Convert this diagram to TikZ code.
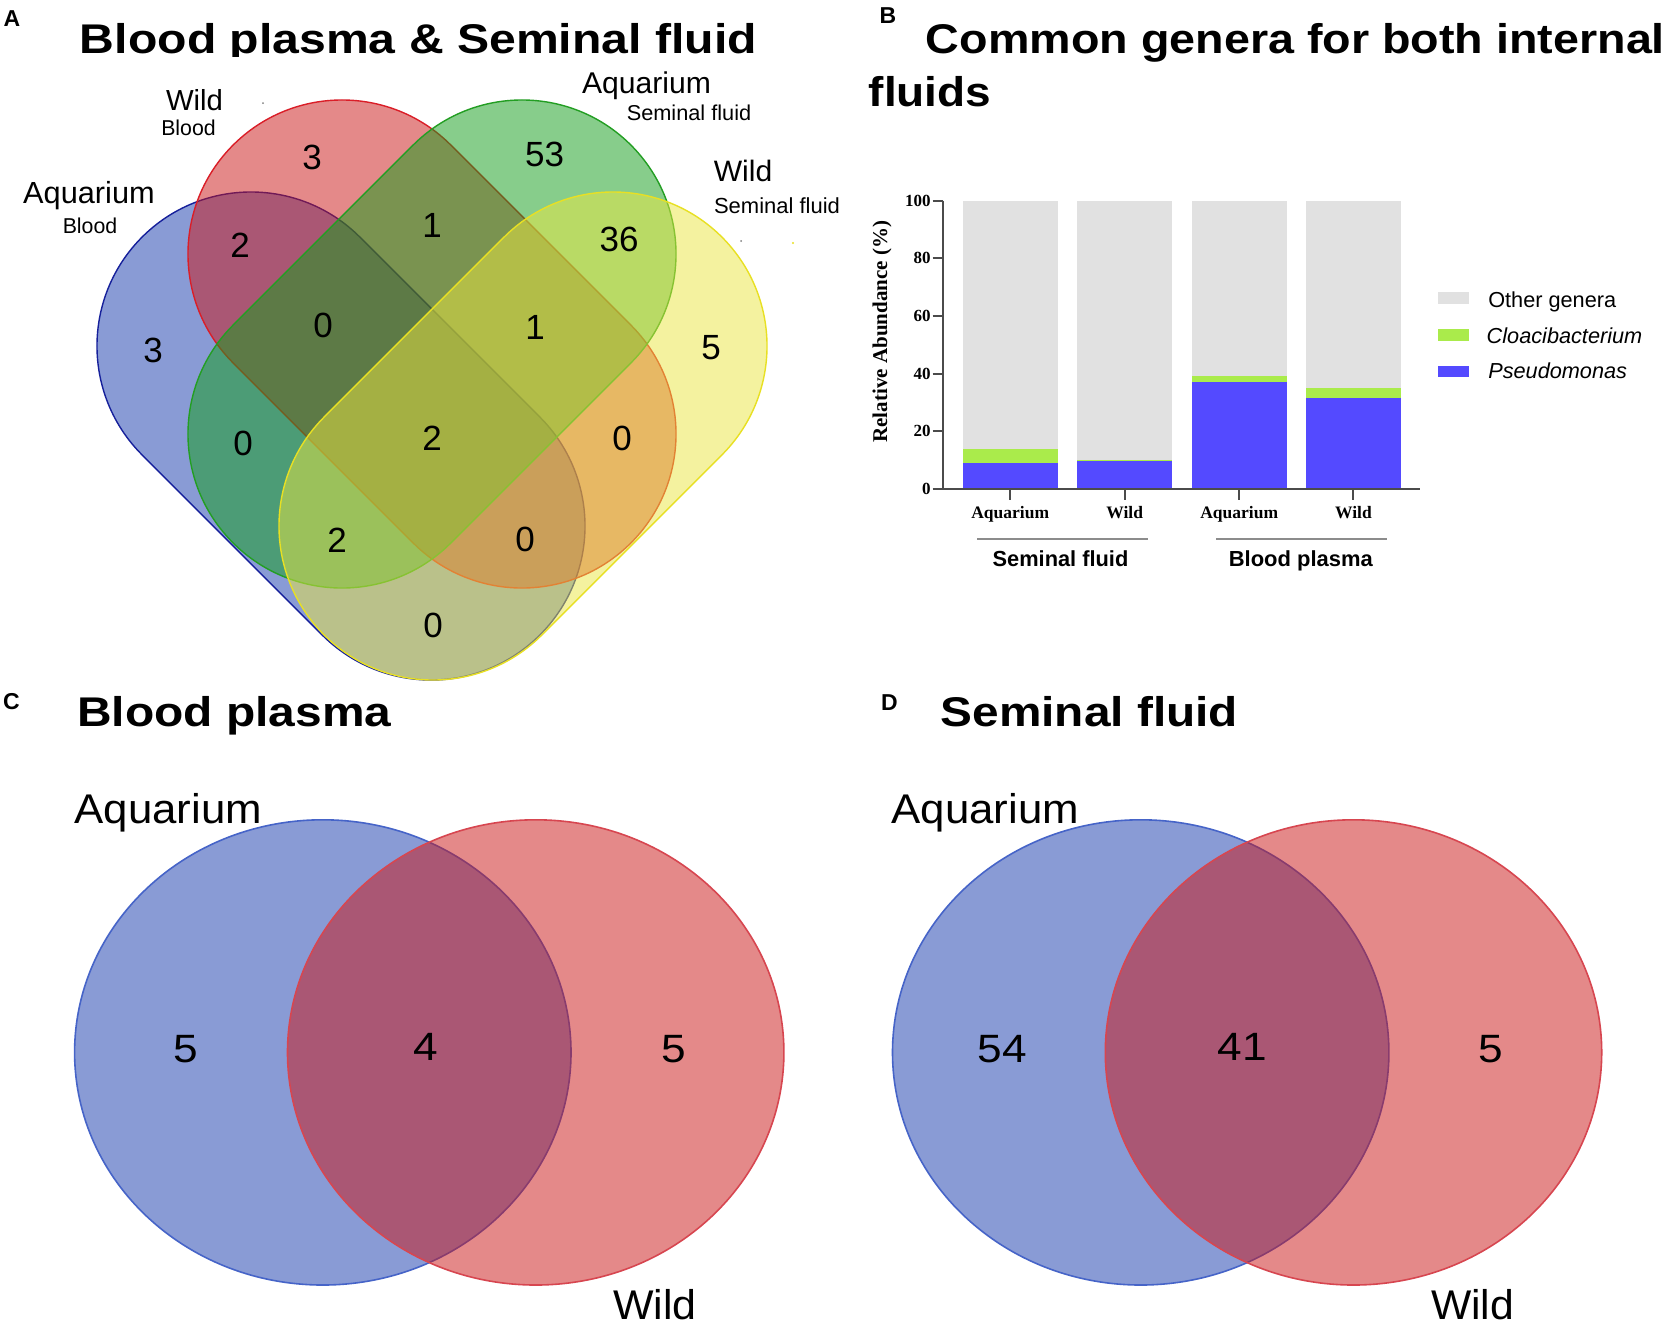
\documentclass[tikz,border=0pt]{standalone}
\usepackage{fontspec}
\setmainfont{Liberation Sans}
\newfontfamily\timesfont{Liberation Serif}
\usepackage{graphicx}
\newcommand\fs[1]{\fontsize{#1}{#1}\selectfont}
\newcommand\fw[3]{\resizebox{#1pt}{\height}{\fs{#2}#3}}
\newcommand\drawbar[4]{%
  \fill[bargray] (#1,200.7) rectangle (#2,489);
  \fill[bargreen] (#1,#4) rectangle (#2,489);
  \fill[barblue] (#1,#3) rectangle (#2,489);}
% stadium: center x, center y, rotation, fill, draw
\newcommand\stadium[5]{%
  \begin{scope}[shift={(#1,#2)}, rotate=#3]
    \path[vset, fill=#4, draw=#5] (-127.3pt,-154pt) -- (127.3pt,-154pt)
      arc[start angle=-90, end angle=90, radius=154pt] -- (-127.3pt,154pt)
      arc[start angle=90, end angle=270, radius=154pt] -- cycle;
  \end{scope}}
\definecolor{vblue}{RGB}{21,57,173}
\definecolor{vred}{RGB}{203,21,21}
\definecolor{vgreen}{RGB}{17,157,25}
\definecolor{vyellow}{RGB}{235,231,65}
\definecolor{bblue}{RGB}{22,32,155}
\definecolor{bred}{RGB}{218,30,40}
\definecolor{bgreen}{RGB}{35,158,35}
\definecolor{byellow}{RGB}{232,224,35}
\definecolor{cblueb}{RGB}{70,100,200}
\definecolor{credb}{RGB}{215,70,80}
\definecolor{barblue}{RGB}{84,74,255}
\definecolor{bargreen}{RGB}{170,235,75}
\definecolor{bargray}{RGB}{225,225,225}
\definecolor{axisgray}{RGB}{75,75,75}
\definecolor{grpgray}{RGB}{140,140,140}
\begin{document}
\begin{tikzpicture}[x=1pt,y=-1pt,
  txt/.style={inner sep=0pt, outer sep=0pt},
  vset/.style={line width=1.4pt, fill opacity=0.5},
  vsetc/.style={line width=1.6pt, fill opacity=0.5},
  axisline/.style={draw=axisgray, line width=2pt},
  grpline/.style={draw=grpgray, line width=1.6pt},
  vnum/.style={txt, font={\fs{35}}},
  cnum/.style={txt},
  panellab/.style={txt, anchor=base, font={\fs{23}\bfseries}},
  ticklab/.style={txt, anchor=east, font={\timesfont\bfseries\fs{17}}},
  xlab/.style={txt, anchor=base, font={\timesfont\bfseries\fs{17.5}}},
  legtext/.style={txt, anchor=base west, font={\fs{21.7}}}
]
\fill[white] (0,0) rectangle (1669,1326);
\useasboundingbox (0,0) rectangle (1669,1326);

% ---------------- Panel A ----------------
\node[panellab] (labA) at (12,26.3) {A};
\begin{scope}
\clip (0,0) rectangle (834,56);
\node[txt, anchor=base] (titleA) at (418.5,53) {\fw{677}{41.5}{\bfseries Blood plasma \& Seminal fluid}};
\end{scope}

\stadium{341}{436}{-45}{vblue}{bblue}
\stadium{432}{344}{-45}{vred}{bred}
\stadium{432}{344}{45}{vgreen}{bgreen}
\stadium{523}{436}{45}{vyellow}{byellow}

\node[txt, anchor=base] (wbW) at (194.5,110) {\fw{57}{29}{Wild}};
\node[txt, anchor=base] (wbB) at (188.5,135.5) {\fw{54.5}{21.5}{Blood}};
\node[txt, anchor=base] (abA) at (89,203.5) {\fw{131.5}{30.5}{Aquarium}};
\node[txt, anchor=base] (abB) at (90,233) {\fw{54.5}{21.5}{Blood}};
\node[txt, anchor=base] (asA) at (646.5,93) {\fw{129}{30}{Aquarium}};
\node[txt, anchor=base] (asS) at (689,120.3) {\fw{124.5}{21.5}{Seminal fluid}};
\node[txt, anchor=base] (wsW) at (743,181) {\fw{58.5}{29.5}{Wild}};
\node[txt, anchor=base] (wsS) at (777,213) {\fw{126}{21.8}{Seminal fluid}};
\fill[gray] (263,103) circle (1pt);
\fill[gray] (741,241) circle (1pt);
\fill[byellow] (793,243) circle (1.2pt);

\node[vnum] (n1) at (312,157) {3};
\node[vnum] (n2) at (544.5,154.5) {53};
\node[vnum] (n3) at (240,245) {2};
\node[vnum] (n4) at (432,225) {1};
\node[vnum] (n5) at (619,239) {36};
\node[vnum] (n6) at (323,325) {0};
\node[vnum] (n7) at (535,327) {1};
\node[vnum] (n8) at (153,350) {3};
\node[vnum] (n9) at (711,348) {5};
\node[vnum] (n10) at (243,443) {0};
\node[vnum] (n11) at (432,438) {2};
\node[vnum] (n12) at (622,438) {0};
\node[vnum] (n13) at (337,540) {2};
\node[vnum] (n14) at (525,539) {0};
\node[vnum] (n15) at (433,625) {0};

% ---------------- Panel B ----------------
\node[panellab] (labB) at (888,23.3) {B};
\node[txt, anchor=base] (titleB1) at (1295.4,53) {\fw{739}{41.5}{\bfseries Common genera for both internal}};
\node[txt, anchor=base] (titleB2) at (930,106) {\fw{122.6}{41.5}{\bfseries fluids}};

\drawbar{962.7}{1057.7}{462.8}{449.2}
\drawbar{1077.3}{1172}{461.0}{460.3}
\drawbar{1191.7}{1286.7}{381.5}{375.7}
\drawbar{1305.7}{1401}{397.6}{387.8}

\draw[axisline] (943.3,200.7) -- (943.3,489) -- (1420,489);
\foreach \v in {0,20,40,60,80,100} {
  \draw[axisline] (932.7,{489-2.883*\v}) -- (943.3,{489-2.883*\v});
  \node[ticklab] (yt\v) at (930.5,{489-2.883*\v}) {\v};
}
\foreach \c in {1010.2,1124.7,1239.2,1353.4} {
  \draw[axisline] (\c,489) -- (\c,500);
}
\node[xlab] (x1) at (1010.2,518.3) {Aquarium};
\node[xlab] (x2) at (1124.7,518.3) {Wild};
\node[xlab] (x3) at (1239.2,518.3) {Aquarium};
\node[xlab] (x4) at (1353.4,518.3) {Wild};
\node[txt, rotate=90, font={\timesfont\bfseries\fs{21}}] (ylab) at (882,331.7) {Relative Abundance (\%)};

\draw[grpline] (977.3,539) -- (1148.3,539);
\draw[grpline] (1216,539) -- (1386.7,539);
\node[txt, anchor=base] (g1) at (1060.5,566.7) {\fw{135.6}{21.8}{\bfseries Seminal fluid}};
\node[txt, anchor=base] (g2) at (1300.8,566.7) {\fw{144}{21.8}{\bfseries Blood plasma}};

\fill[bargray] (1438.3,292.3) rectangle (1469,304);
\fill[bargreen] (1438.3,329) rectangle (1469,340.7);
\fill[barblue] (1438.3,365.7) rectangle (1469,377.3);
\node[legtext] (l1) at (1488.3,307.3) {Other genera};
\node[legtext] (l2) at (1486.7,343.3) {\itshape Cloacibacterium};
\node[legtext] (l3) at (1488.3,378.3) {\itshape Pseudomonas};

% ---------------- Panel C ----------------
\node[panellab] (labC) at (11.5,709.5) {C};
\node[txt, anchor=base] (titleC) at (234.3,726.5) {\fw{314.2}{41.5}{\bfseries Blood plasma}};
\path[vsetc, fill=vblue, draw=cblueb] (322.8,1052.4) ellipse [x radius=248.2pt, y radius=232.6pt];
\path[vsetc, fill=vred, draw=credb] (535.7,1052.4) ellipse [x radius=248.2pt, y radius=232.6pt];
\node[txt, anchor=base] (cA) at (168.2,823) {\fw{187.5}{41.5}{Aquarium}};
\node[txt, anchor=base] (cW) at (654.8,1319) {\fw{83.5}{41.5}{Wild}};
\node[cnum] (c1) at (185.3,1048.6) {\scalebox{1.12}[1]{\fs{39.5}5}};
\node[cnum] (c2) at (426,1046.5) {\scalebox{1.12}[1]{\fs{39.5}4}};
\node[cnum] (c3) at (673.6,1049) {\scalebox{1.12}[1]{\fs{39.5}5}};

% ---------------- Panel D ----------------
\node[panellab] (labD) at (889.5,710.4) {D};
\node[txt, anchor=base] (titleD) at (1089.3,726.5) {\fw{297.3}{41.5}{\bfseries Seminal fluid}};
\path[vsetc, fill=vblue, draw=cblueb] (1140.7,1052.4) ellipse [x radius=248.2pt, y radius=232.6pt];
\path[vsetc, fill=vred, draw=credb] (1353.5,1052.4) ellipse [x radius=248.2pt, y radius=232.6pt];
\node[txt, anchor=base] (dA) at (985.3,823) {\fw{187.5}{41.5}{Aquarium}};
\node[txt, anchor=base] (dW) at (1472.5,1319) {\fw{83}{41.5}{Wild}};
\node[cnum] (d1) at (1002.4,1048.6) {\scalebox{1.12}[1]{\fs{39.5}54}};
\node[cnum] (d2) at (1242,1046.5) {\scalebox{1.12}[1]{\fs{39.5}41}};
\node[cnum] (d3) at (1491,1049) {\scalebox{1.12}[1]{\fs{39.5}5}};
\end{tikzpicture}
\end{document}
